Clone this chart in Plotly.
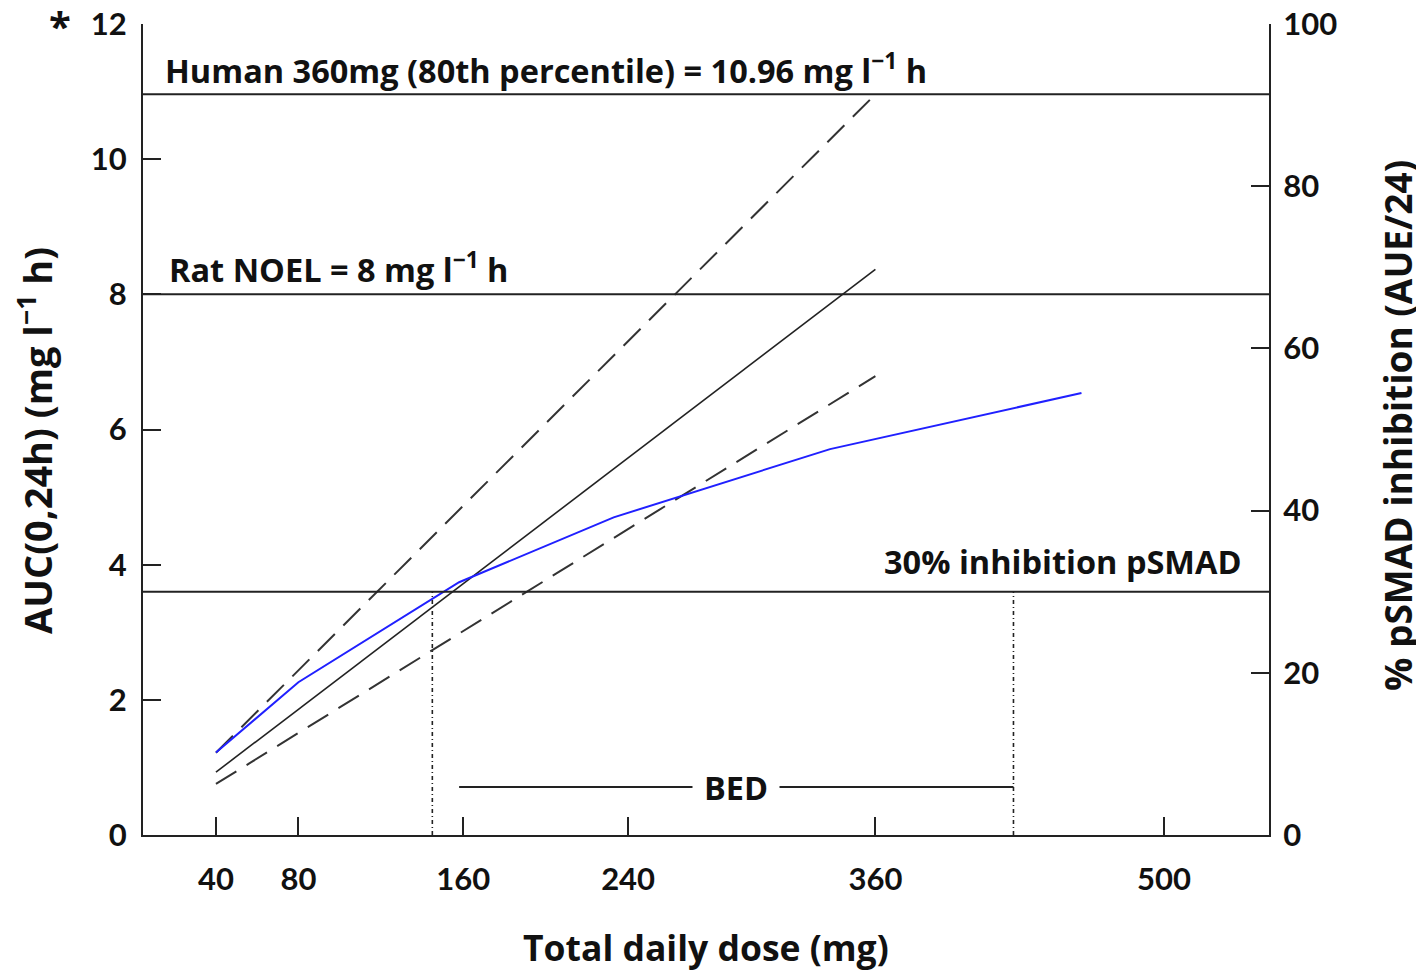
import plotly.graph_objects as go

# ---- data ----
dose_ticks = [40, 80, 160, 240, 360, 500]
auc_ticks = [0, 2, 4, 6, 8, 10, 12]
inhib_ticks = [0, 20, 40, 60, 80, 100]

line_dose = [40, 360]
auc_median = [0.93, 8.37]
auc_p80 = [1.218, 10.96]
auc_p20 = [0.755, 6.79]

blue_dose = [40, 80, 158, 233, 338, 460]
blue_auc = [1.22, 2.26, 3.74, 4.70, 5.71, 6.54]

human_auc = 10.96
rat_noel = 8
inhib30_auc = 3.6
bed_low, bed_high = 145, 427
bed_start = 158
bed_y = 0.71

TICKFONT = "Lato"
TXTFONT = "Open Sans"
FS = 32.5

fig = go.Figure()

fig.add_trace(go.Scatter(x=line_dose, y=auc_p80, mode="lines",
                         line=dict(color="#333333", width=2, dash="24px,12px"), showlegend=False))
fig.add_trace(go.Scatter(x=line_dose, y=auc_median, mode="lines",
                         line=dict(color="#222222", width=1.6), showlegend=False))
fig.add_trace(go.Scatter(x=line_dose, y=auc_p20, mode="lines",
                         line=dict(color="#333333", width=2, dash="24px,12px"), showlegend=False))
fig.add_trace(go.Scatter(x=blue_dose, y=blue_auc, mode="lines",
                         line=dict(color="#2020ff", width=2), showlegend=False))
# invisible trace to activate right axis
fig.add_trace(go.Scatter(x=[dose_ticks[0]], y=[inhib_ticks[0]], yaxis="y2", mode="markers",
                         marker=dict(opacity=0), showlegend=False, hoverinfo="skip"))

# horizontal reference lines
for yv in [human_auc, rat_noel, inhib30_auc]:
    fig.add_shape(type="line", xref="paper", yref="y", x0=0, x1=1, y0=yv, y1=yv,
                  line=dict(color="#222222", width=2))
# dotted verticals
for xv in [bed_low, bed_high]:
    fig.add_shape(type="line", xref="x", yref="y", x0=xv, x1=xv, y0=0, y1=inhib30_auc,
                  line=dict(color="#222222", width=1.6, dash="4px,3px,1px,3px"))
# BED bar
fig.add_shape(type="line", xref="x", yref="y", x0=bed_start, x1=bed_high, y0=bed_y, y1=bed_y,
              line=dict(color="#222222", width=2))

txt = dict(family=TXTFONT, size=FS, color="#111111", weight="bold")
ttl = dict(family=TXTFONT, size=38, color="#111111", weight="bold")
fig.add_annotation(x=0.018, xref="paper", y=11.34, yref="y", xanchor="left", yanchor="middle",
                   text="Human 360mg (80th percentile) = 10.96 mg l<sup>−1</sup> h", showarrow=False, font=txt)
fig.add_annotation(x=0.021, xref="paper", y=8.39, yref="y", xanchor="left", yanchor="middle",
                   text="Rat NOEL = 8 mg l<sup>−1</sup> h", showarrow=False, font=txt)
fig.add_annotation(x=0.977, xref="paper", y=4.05, yref="y", xanchor="right", yanchor="middle",
                   text="30% inhibition pSMAD", showarrow=False, font=txt)
fig.add_annotation(x=(bed_start + bed_high) / 2, xref="x", y=bed_y, yref="y", xanchor="center", yanchor="middle",
                   text="BED", showarrow=False, font=txt, bgcolor="white", borderpad=11)
fig.add_annotation(x=-0.0736, xref="paper", y=0.9985, yref="paper", xanchor="center", yanchor="middle",
                   text="*", showarrow=False, font=dict(family=TXTFONT, size=40, color="#111111", weight="bold"))

# axis titles
fig.add_annotation(x=-0.096, xref="paper", y=0.487, yref="paper", xanchor="center", yanchor="middle",
                   text="AUC(0,24h) (mg l<sup>−1</sup> h)", textangle=-90, showarrow=False, font=ttl)
fig.add_annotation(x=1.1136, xref="paper", y=0.5055, yref="paper", xanchor="center", yanchor="middle",
                   text="% pSMAD inhibition (AUE/24)", textangle=-90, showarrow=False, font=dict(ttl, size=37))
fig.add_annotation(x=0.4996, xref="paper", y=-0.138, yref="paper", xanchor="center", yanchor="middle",
                   text="Total daily dose (mg)", showarrow=False, font=dict(ttl, size=35.5))

tickfont = dict(family=TICKFONT, size=31, color="#111111", weight="bold")
axis_common = dict(showline=True, linecolor="#222222", linewidth=2, ticks="inside", ticklen=18,
                   tickwidth=2, tickcolor="#222222", showgrid=False, zeroline=False, tickfont=tickfont,
                   ticklabeloverflow="allow", automargin=False)

fig.update_layout(
    width=1424, height=970,
    margin=dict(l=135, r=163, t=16, b=143, autoexpand=False),
    paper_bgcolor="white", plot_bgcolor="white",
    xaxis=dict(range=[4.6, 551], tickvals=dose_ticks, ticklabelstandoff=16, **axis_common),
    yaxis=dict(range=[0, 12], tickvals=auc_ticks, ticklabelstandoff=8, **axis_common),
    yaxis2=dict(range=[0, 100], tickvals=inhib_ticks, overlaying="y", side="right",
                ticklabelstandoff=6, **axis_common),
)

fig.write_html("out.html")
